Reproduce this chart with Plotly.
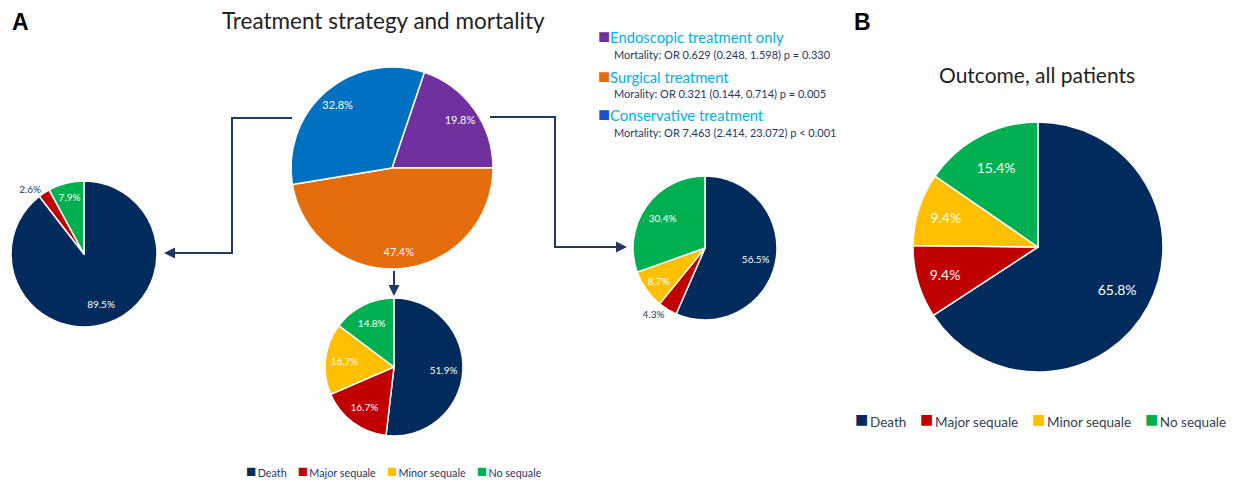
import plotly.graph_objects as go

W, H = 1234, 480

# ---- data ----
outcome_labels = ["Death", "Major sequale", "Minor sequale", "No sequale"]
outcome_colors = ["#002B5C", "#C00000", "#FFC000", "#00B050"]

treat_labels = ["Endoscopic treatment only", "Surgical treatment", "Conservative treatment"]
treat_values = [19.8, 47.4, 32.8]
treat_colors = ["#7030A0", "#E46C0A", "#0070C0"]

conservative_values = [89.5, 2.6, 0.0, 7.9]
surgical_values = [51.9, 16.7, 16.7, 14.8]
endoscopic_values = [56.5, 4.3, 8.7, 30.4]
all_values = [65.8, 9.4, 9.4, 15.4]

or_texts = [
    "Mortality: OR 0.629 (0.248, 1.598) p = 0.330",
    "Morality: OR 0.321 (0.144, 0.714) p = 0.005",
    "Mortality: OR 7.463 (2.414, 23.072) p < 0.001",
]
legend_square_colors = ["#7030A0", "#E46C0A", "#1F4FC8"]

FONT = "Lato"
NAVY = "#1F3864"


def px(x):
    return x / W


def py(y):
    return 1 - y / H


def dom(cx, cy, r):
    return dict(x=[px(cx - r), px(cx + r)], y=[py(cy + r), py(cy - r)])


def fmt(vals):
    return ["" if v == 0 else f"{v:.1f}%" for v in vals]


fig = go.Figure()


def add_pie(labels, vals, colors, d, tp, size, rot=0, ring=0.44):
    # filled slices
    fig.add_trace(go.Pie(
        labels=labels, values=vals, sort=False, direction="clockwise",
        rotation=rot, domain=d,
        marker=dict(colors=colors, line=dict(color="white", width=1.5)),
        textinfo="none", showlegend=False, hoverinfo="label+percent",
    ))
    # label layer (transparent ring so labels sit toward the rim)
    fig.add_trace(go.Pie(
        labels=labels, values=vals, sort=False, direction="clockwise",
        rotation=rot, domain=d, hole=ring,
        marker=dict(colors=["rgba(0,0,0,0)"] * len(vals), line=dict(width=0)),
        text=fmt(vals), textinfo="text", textposition=tp,
        insidetextfont=dict(family=FONT, size=size, color="white"),
        outsidetextfont=dict(family=FONT, size=size, color=NAVY),
        insidetextorientation="horizontal", showlegend=False, hoverinfo="skip",
    ))


add_pie(treat_labels, treat_values, treat_colors, dom(392, 168, 101), "inside", 11, rot=18.7, ring=0.66)
add_pie(outcome_labels, conservative_values, outcome_colors, dom(84, 254, 73),
        ["inside", "outside", "inside", "inside"], 10)
add_pie(outcome_labels, surgical_values, outcome_colors, dom(394, 367, 69), "inside", 10)
add_pie(outcome_labels, endoscopic_values, outcome_colors, dom(705, 248, 72),
        ["inside", "outside", "inside", "inside"], 10)
add_pie(outcome_labels, all_values, outcome_colors, dom(1038, 247, 125), "inside", 14)


def ann(x, y, text, size, color, family=FONT, xanchor="left"):
    return dict(x=px(x), y=py(y), xref="paper", yref="paper", text=text, showarrow=False,
                font=dict(size=size, color=color, family=family),
                xanchor=xanchor, yanchor="middle")


annotations = [
    ann(10, 22, "<b>A</b>", 23, "black", "Liberation Sans"),
    ann(852, 22, "<b>B</b>", 23, "black", "Liberation Sans"),
    ann(383, 21, "Treatment strategy and mortality", 22.5, "#222222", xanchor="center"),
    ann(1037, 74, "Outcome, all patients", 21, "#222222", xanchor="center"),
]
head_y = [35, 75, 113]
sub_y = [54, 94, 132]
for lab, sq, t, hy, sy in zip(treat_labels, legend_square_colors, or_texts, head_y, sub_y):
    annotations.append(ann(596, hy, f"<span style='color:{sq};font-size:20px'>■</span>{lab}",
                           14.8, "#00B0F0"))
    annotations.append(ann(612, sy, t, 11, NAVY))


# outcome legends (text with coloured squares, built from the label / colour lists)
def legend_text(sq_size, gap):
    parts = [f"<span style='color:{c};font-size:{sq_size}px'>■</span>&#8201;{l}"
             for l, c in zip(outcome_labels, outcome_colors)]
    return gap.join(parts)


annotations.append(ann(394, 470, legend_text(17, "&nbsp;&nbsp;&nbsp;&nbsp;"), 10.8, NAVY,
                       xanchor="center"))
annotations.append(ann(1040, 418, legend_text(22, "&nbsp;&nbsp;&nbsp;&nbsp;"), 13.5, "#333F50",
                       xanchor="center"))

# arrowheads
arrow_common = dict(text="", showarrow=True, arrowhead=2, arrowsize=1.1, arrowwidth=2,
                    arrowcolor=NAVY, xref="paper", yref="paper")
annotations.append(dict(x=px(164), y=py(253), ax=10, ay=0, **arrow_common))
annotations.append(dict(x=px(627), y=py(247), ax=-10, ay=0, **arrow_common))
annotations.append(dict(x=px(394), y=py(296), ax=0, ay=-10, **arrow_common))

line = dict(color=NAVY, width=2)
shapes = [
    dict(type="path", xref="paper", yref="paper", line=line,
         path=f"M {px(292)} {py(118)} L {px(232)} {py(118)} L {px(232)} {py(253)} L {px(172)} {py(253)}"),
    dict(type="path", xref="paper", yref="paper", line=line,
         path=f"M {px(490)} {py(117)} L {px(555)} {py(117)} L {px(555)} {py(247)} L {px(619)} {py(247)}"),
    dict(type="line", xref="paper", yref="paper", line=line,
         x0=px(394), y0=py(271), x1=px(394), y1=py(288)),
]

fig.update_layout(
    width=W, height=H, margin=dict(l=0, r=0, t=0, b=0),
    paper_bgcolor="white", plot_bgcolor="white",
    font=dict(family=FONT), showlegend=False,
    annotations=annotations, shapes=shapes,
)

fig.write_html("out.html", config={"displayModeBar": False},
               post_script="document.body.style.margin='0';document.body.style.overflow='hidden';")
